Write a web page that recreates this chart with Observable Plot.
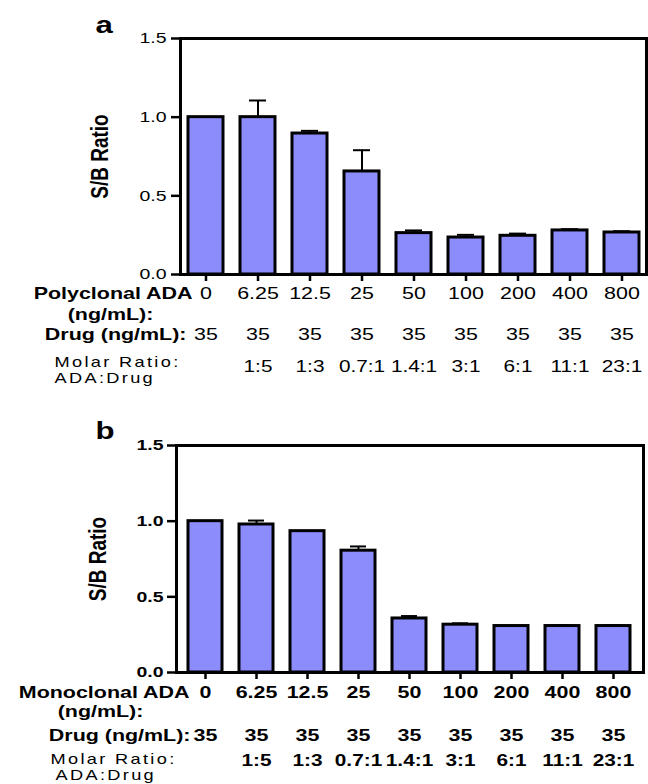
<!DOCTYPE html>
<html><head><meta charset="utf-8">
<script src="https://cdn.jsdelivr.net/npm/d3@7"></script>
<script src="https://cdn.jsdelivr.net/npm/@observablehq/plot@0.6"></script>
<style>body{margin:0;background:#fff} #chart svg{display:block}</style>
</head><body><div id="chart"></div>
<script>
// ---- data ----
const ada = ["0","6.25","12.5","25","50","100","200","400","800"];
const drug = [35,35,35,35,35,35,35,35,35];
const molar = ["","1:5","1:3","0.7:1","1.4:1","3:1","6:1","11:1","23:1"];
const polyMean = [1.0,1.0,0.896,0.655,0.263,0.235,0.246,0.28,0.267];
const polyErrTop = [null,1.106,0.913,0.79,0.28,0.252,0.26,0.288,0.275];
const monoMean = [1.0,0.978,0.934,0.805,0.357,0.316,0.307,0.307,0.307];
const monoErrTop = [null,1.004,null,0.833,0.373,0.325,null,0.313,0.313];
const yTicks = [0,0.5,1.0,1.5];

const FONT = "'Liberation Sans', Arial, Helvetica, sans-serif";
const BAR = "#8c8cfc";
const SX = 1.3;

function stretch(svg){
  svg.querySelectorAll("text").forEach(t=>{
    let tr = t.getAttribute("transform") || "";
    if (/rotate/.test(tr)) { t.setAttribute("transform", tr + ` scale(1,${SX})`); return; }
    const xa = t.getAttribute("x");
    if (xa != null && !/em/.test(xa)) { tr += ` translate(${parseFloat(xa)},0)`; t.removeAttribute("x"); }
    t.setAttribute("transform", (tr + ` scale(${SX},1)`).trim());
  });
}

function panel(o){
  const idx = ada.map((d,i)=>i);
  const rows = idx.map(i=>({cat: ada[i], v: o.mean[i], e: o.err[i]}));
  const errRows = rows.filter(r=>r.e!=null);
  const nw = o.numWeight;
  const svg = Plot.plot({
    width: 648, height: 392,
    marginLeft: o.ml, marginRight: o.mr, marginTop: o.mt, marginBottom: o.mb,
    style: {fontFamily: FONT, background: "#fff", overflow: "visible", color: "#000"},
    x: {domain: ada, paddingInner: 0.33, paddingOuter: o.po, axis: null},
    y: {domain: [0,1.5], axis: null},
    marks: [
      Plot.barY(rows, {x: "cat", y: "v", fill: BAR, stroke: "#000", strokeWidth: 3}),
      Plot.ruleX(errRows, {x: "cat", y1: "v", y2: "e", stroke: "#000", strokeWidth: 2}),
      Plot.tickY(errRows, {x: "cat", y: "e", stroke: "#000", strokeWidth: 2, insetLeft: 9, insetRight: 9}),
      Plot.frame({stroke: "#000", strokeWidth: 3}),
      Plot.axisY({ticks: yTicks, tickFormat: d3.format(".1f"), tickSize: 9, tickPadding: o.ytp, fontSize: 15, fontWeight: o.yWeight, strokeWidth: 2.5, label: null}),
      Plot.axisX({tickSize: 7, tickPadding: o.xtp, tickFormat: d=>d, fontSize: 16.5, fontWeight: nw, strokeWidth: 2.5, label: null}),
      Plot.text(idx, {x: i=>ada[i], text: i=>String(drug[i]), frameAnchor: "bottom", dy: o.drugDy, lineAnchor: "bottom", fontSize: 16.5, fontWeight: nw}),
      Plot.text(idx, {x: i=>ada[i], text: i=>molar[i], frameAnchor: "bottom", dy: o.molDy, lineAnchor: "bottom", fontSize: 16, fontWeight: nw}),
      // row headers
      Plot.text([o.header], {frameAnchor: "bottom-left", textAnchor: "end", dx: o.hdx, dy: o.hdy, lineAnchor: "bottom", fontSize: 16.5, fontWeight: "bold"}),
      Plot.text(["(ng/mL):"], {frameAnchor: "bottom-left", textAnchor: "middle", dx: o.ndx, dy: o.ndy, lineAnchor: "bottom", fontSize: 16.5, fontWeight: "bold"}),
      Plot.text(["Drug (ng/mL):"], {frameAnchor: "bottom-left", textAnchor: "end", dx: o.ddx, dy: o.drugDy, lineAnchor: "bottom", fontSize: 16.5, fontWeight: "bold"}),
      Plot.text(["Molar Ratio:"], {frameAnchor: "bottom-left", textAnchor: "start", dx: o.mdx, dy: o.mhDy, lineAnchor: "bottom", fontSize: 14}),
      Plot.text(["ADA:Drug"], {frameAnchor: "bottom-left", textAnchor: "start", dx: o.adx, dy: o.aDy, lineAnchor: "bottom", fontSize: 14}),
      // y label and panel letter
      Plot.text(["S/B Ratio"], {frameAnchor: "left", rotate: -90, textAnchor: "middle", lineAnchor: "middle", dx: o.ylx, fontSize: 19, fontWeight: "bold"}),
      Plot.text([o.letter], {frameAnchor: "top-left", textAnchor: "start", lineAnchor: "bottom", dx: o.ldx, dy: o.ldy, fontSize: 24, fontWeight: "bold"})
    ]
  });
  svg.querySelectorAll("text").forEach(t=>{
    const s = t.textContent;
    if (s === "Molar Ratio:" || s === "ADA:Drug") t.setAttribute("letter-spacing", "1.8");
  });
  stretch(svg);
  return svg;
}

const chart = document.getElementById("chart");
chart.appendChild(panel({
  mean: polyMean, err: polyErrTop, letter: "a", header: "Polyclonal ADA",
  ml: 180, mr: 2, mt: 38, mb: 118, po: 0.135,
  numWeight: "normal", yWeight: "normal", ytp: 5, xtp: 5.3,
  drugDy: 65, molDy: 97, hdx: 12, hdy: 24, ndx: -70, ndy: 45, ddx: 6,
  mdx: -126, mhDy: 92, adx: -126, aDy: 108, ylx: -80, ldx: -85, ldy: -6
}));
chart.appendChild(panel({
  mean: monoMean, err: monoErrTop, letter: "b", header: "Monoclonal ADA",
  ml: 176, mr: 5, mt: 53, mb: 112, po: 0.16,
  numWeight: "bold", yWeight: "bold", ytp: 4, xtp: 6.6,
  drugDy: 68, molDy: 93, hdx: 13, hdy: 25, ndx: -76, ndy: 44, ddx: 14,
  mdx: -126, mhDy: 91, adx: -121, aDy: 107, ylx: -78, ldx: -81, ldy: -7
}));
</script></body></html>
